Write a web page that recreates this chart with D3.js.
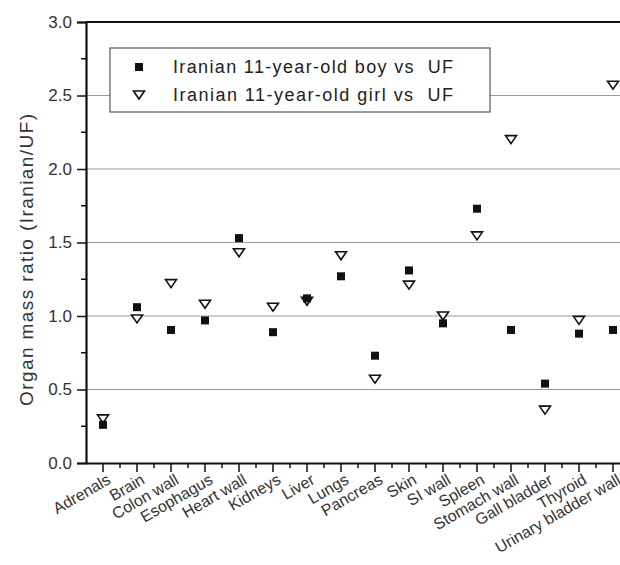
<!DOCTYPE html>
<html>
<head>
<meta charset="utf-8">
<script src="https://cdn.jsdelivr.net/npm/d3@7"></script>
<style>
    body { margin: 0; background: #fff; }
    svg { display: block; font-family: "Liberation Sans", Arial, sans-serif; }
</style>
</head>
<body>
<svg id="chart" width="620" height="565"></svg>
<script>
/**
 * Data.
 */
const organs = ['Adrenals', 'Brain', 'Colon wall', 'Esophagus', 'Heart wall', 'Kidneys', 'Liver', 'Lungs',
    'Pancreas', 'Skin', 'SI wall', 'Spleen', 'Stomach wall', 'Gall bladder', 'Thyroid', 'Urinary bladder wall'];
const boyRatio = [0.26, 1.06, 0.905, 0.97, 1.53, 0.89, 1.12, 1.27, 0.73, 1.31, 0.95, 1.73, 0.905, 0.54, 0.88, 0.905];
const girlRatio = [0.30, 0.98, 1.22, 1.08, 1.43, 1.06, 1.10, 1.41, 0.57, 1.21, 1.00, 1.545, 2.20, 0.36, 0.97, 2.57];
const yTicks = [0, 0.5, 1.0, 1.5, 2.0, 2.5, 3.0];
const seriesNames = ['Iranian 11-year-old boy vs  UF', 'Iranian 11-year-old girl vs  UF'];

/**
 * Visual configs.
 */
const margin = { top: 22, right: -10, bottom: 102, left: 86 };
const visWidth = 620, visHeight = 565;
const width = visWidth - margin.left - margin.right,
    height = visHeight - margin.top - margin.bottom;
const font = '"Liberation Sans", Arial, sans-serif';

const svg = d3.select('#chart');
const g = svg.append('g').attr('transform', 'translate(' + margin.left + ',' + margin.top + ')');

const x = d3.scaleBand().domain(organs).range([0, width]).padding(0);
const y = d3.scaleLinear().domain([0, 3]).range([height, 0]);
const cx = d => x(d) + x.bandwidth() / 2;

// Gridlines
g.append('g').attr('class', 'grid')
    .selectAll('line').data(yTicks.filter(t => t > 0 && t < 3))
    .join('line')
    .attr('x1', 0).attr('x2', width)
    .attr('y1', d => y(d)).attr('y2', d => y(d))
    .attr('stroke', '#9a9a9a').attr('stroke-width', 1);

// Y axis: major + minor ticks
const yMinor = d3.range(0.25, 3, 0.5);
g.append('g').selectAll('line').data(yMinor).join('line')
    .attr('x1', -5).attr('x2', 0).attr('y1', d => y(d)).attr('y2', d => y(d))
    .attr('stroke', '#111').attr('stroke-width', 1.5);
const yAxis = g.append('g')
    .call(d3.axisLeft(y).tickValues(yTicks).tickFormat(d3.format('.1f')).tickSize(9).tickPadding(5));
yAxis.select('.domain').attr('stroke', '#111').attr('stroke-width', 2.2);
yAxis.selectAll('.tick line').attr('stroke', '#111').attr('stroke-width', 1.5);
yAxis.selectAll('.tick text').attr('font-size', 17).attr('fill', '#333').attr('font-family', font);

// X axis: major ticks at categories, minor ticks at boundaries
g.append('g').attr('transform', 'translate(0,' + height + ')')
    .selectAll('line').data(d3.range(1, organs.length + 1)).join('line')
    .attr('x1', d => d * x.step()).attr('x2', d => d * x.step())
    .attr('y1', 0).attr('y2', 5)
    .attr('stroke', '#111').attr('stroke-width', 1.5);
const xAxis = g.append('g').attr('transform', 'translate(0,' + height + ')')
    .call(d3.axisBottom(x).tickSize(9).tickSizeOuter(0));
xAxis.select('.domain').attr('stroke', '#111').attr('stroke-width', 2.2);
xAxis.selectAll('.tick line').attr('stroke', '#111').attr('stroke-width', 1.5);
xAxis.selectAll('.tick text')
    .attr('font-size', 16).attr('fill', '#333').attr('font-family', font)
    .attr('text-anchor', 'end')
    .attr('x', 0).attr('y', 0).attr('dy', '0.35em')
    .attr('transform', 'translate(6,15) rotate(-30)');

// Top border
g.append('line')
    .attr('x1', 0).attr('x2', width).attr('y1', 0).attr('y2', 0)
    .attr('stroke', '#111').attr('stroke-width', 2.2);

// Y axis title
svg.append('text')
    .attr('transform', 'translate(33,260) rotate(-90)')
    .attr('text-anchor', 'middle')
    .attr('font-size', 19).attr('fill', '#333')
    .attr('textLength', 292).attr('lengthAdjust', 'spacing')
    .text('Organ mass ratio (Iranian/UF)');

// Markers
const triangle = (px, py) => {
    const w = 5.5, h = 8;
    return 'M' + (px - w) + ',' + (py - h / 2) + 'L' + (px + w) + ',' + (py - h / 2) + 'L' + px + ',' + (py + h / 2) + 'Z';
};

g.append('g').selectAll('path').data(organs).join('path')
    .attr('d', (d, i) => triangle(cx(d), y(girlRatio[i])))
    .attr('fill', '#fff').attr('stroke', '#111').attr('stroke-width', 1.6);

g.append('g').selectAll('rect').data(organs).join('rect')
    .attr('x', d => cx(d) - 4).attr('y', (d, i) => y(boyRatio[i]) - 4)
    .attr('width', 8).attr('height', 8)
    .attr('fill', '#111');

// Legend
const legend = svg.append('g').attr('transform', 'translate(110,48)');
legend.append('rect')
    .attr('width', 380).attr('height', 64)
    .attr('fill', '#fff').attr('stroke', '#555').attr('stroke-width', 1.2);
legend.append('rect').attr('x', 25).attr('y', 15).attr('width', 8).attr('height', 8).attr('fill', '#111');
legend.append('path').attr('d', triangle(29, 47))
    .attr('fill', '#fff').attr('stroke', '#111').attr('stroke-width', 1.6);
legend.selectAll('text').data(seriesNames).join('text')
    .attr('x', 63).attr('y', (d, i) => 19 + i * 28)
    .attr('dy', '0.35em')
    .attr('font-size', 18).attr('fill', '#222')
    .attr('textLength', 280).attr('lengthAdjust', 'spacing')
    .style('white-space', 'pre')
    .text(d => d);
</script>
</body>
</html>
